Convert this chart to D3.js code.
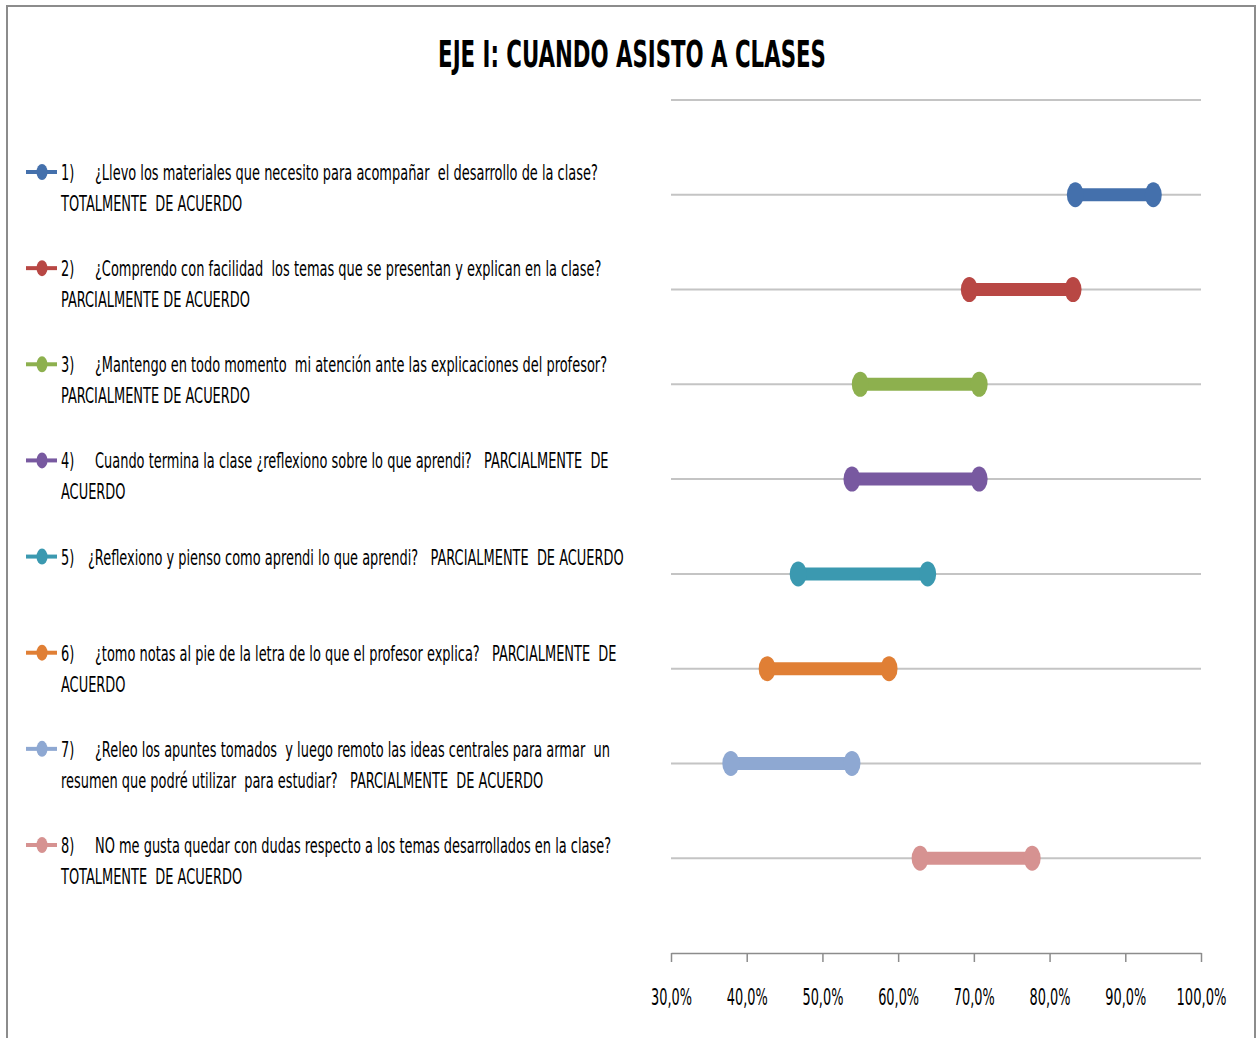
<!DOCTYPE html>
<html>
<head>
<meta charset="utf-8">
<script src="https://cdn.jsdelivr.net/npm/d3@7"></script>
<style>
  body { margin: 0; background: #fff; }
  svg text { font-family: "Liberation Sans Narrow", "DejaVu Sans Condensed", sans-serif; white-space: pre; }
</style>
</head>
<body>
<div id="chart"></div>
<script>
var svgWidth = 1258;
var svgHeight = 1038;

// question numbers, label lines, and the low / high percentage of each range
var numbers = ["1)", "2)", "3)", "4)", "5)", "6)", "7)", "8)"];
var firstLines = [
    "¿Llevo los materiales que necesito para acompañar  el desarrollo de la clase?",
    "¿Comprendo con facilidad  los temas que se presentan y explican en la clase?",
    "¿Mantengo en todo momento  mi atención ante las explicaciones del profesor?",
    "Cuando termina la clase ¿reflexiono sobre lo que aprendi?   PARCIALMENTE  DE",
    "¿Reflexiono y pienso como aprendi lo que aprendi?   PARCIALMENTE  DE ACUERDO",
    "¿tomo notas al pie de la letra de lo que el profesor explica?   PARCIALMENTE  DE",
    "¿Releo los apuntes tomados  y luego remoto las ideas centrales para armar  un",
    "NO me gusta quedar con dudas respecto a los temas desarrollados en la clase?"
];
var secondLines = [
    "TOTALMENTE  DE ACUERDO",
    "PARCIALMENTE DE ACUERDO",
    "PARCIALMENTE DE ACUERDO",
    "ACUERDO",
    "",
    "ACUERDO",
    "resumen que podré utilizar  para estudiar?   PARCIALMENTE  DE ACUERDO",
    "TOTALMENTE  DE ACUERDO"
];
var lowValues = [0.834, 0.694, 0.550, 0.539, 0.468, 0.427, 0.379, 0.629];
var highValues = [0.937, 0.831, 0.707, 0.707, 0.639, 0.588, 0.539, 0.777];
var colors = ["#4470ac", "#b84744", "#8db04e", "#7859a0", "#3b99b0", "#e07f35", "#8ea8d2", "#d69291"];
var xTicks = [0.3, 0.4, 0.5, 0.6, 0.7, 0.8, 0.9, 1.0];

var svg = d3.select("#chart")
    .append("svg")
    .attr("width", svgWidth)
    .attr("height", svgHeight);

// frame
svg.append("rect")
    .attr("x", 7).attr("y", 6)
    .attr("width", 1248).attr("height", 1040)
    .attr("fill", "none")
    .attr("stroke", "#8c8c8c")
    .attr("stroke-width", 2);

// squeeze a text element horizontally so it spans targetWidth
function squeeze(sel, targetWidth, anchorX) {
    var w = sel.node().getComputedTextLength();
    var k = targetWidth / w;
    sel.attr("transform", `translate(${anchorX * (1 - k)},0) scale(${k},1)`);
}

var title = svg.append("text")
    .attr("x", 632)
    .attr("y", 67)
    .attr("text-anchor", "middle")
    .attr("font-size", 38)
    .attr("font-weight", "bold")
    .attr("fill", "#000")
    .text("EJE I: CUANDO ASISTO A CLASES");
squeeze(title, 388, 632);

var xScale = d3.scaleLinear()
    .domain([0.3, 1.0])
    .range([671, 1201]);

var yScale = d3.scaleLinear()
    .domain([0, 9])
    .range([953, 100]);

// gridlines
svg.append("g").selectAll("line")
    .data(d3.range(1, 10))
    .enter()
    .append("line")
    .attr("x1", 671).attr("x2", 1201)
    .attr("y1", d => yScale(d)).attr("y2", d => yScale(d))
    .attr("stroke", "#c4c4c4")
    .attr("stroke-width", 2);

var bottomAxis = d3.axisBottom(xScale)
    .tickValues(xTicks)
    .tickSize(9)
    .tickSizeOuter(0)
    .tickPadding(29)
    .tickFormat(d => d3.format(".1f")(d * 100).replace(".", ",") + "%");

var xAxis = svg.append("g")
    .attr("transform", `translate(0, ${yScale(0)})`)
    .call(bottomAxis);
xAxis.select(".domain").attr("stroke", "#8c8c8c").attr("stroke-width", 1.5);
xAxis.selectAll(".tick line").attr("stroke", "#8c8c8c").attr("stroke-width", 1.5);
xAxis.selectAll(".tick text")
    .attr("font-family", "Liberation Sans Narrow, DejaVu Sans Condensed, sans-serif")
    .attr("font-size", 23)
    .attr("dy", "0.6em")
    .attr("fill", "#000")
    .each(function (d) {
        var t = d3.select(this);
        var target = d >= 1 ? 50 : 41;
        var w = this.getComputedTextLength();
        t.attr("transform", `scale(${target / w},1)`);
    });

// ranges
var rows = d3.range(numbers.length);
var rangeGroup = svg.append("g");

rangeGroup.selectAll("line")
    .data(rows)
    .enter()
    .append("line")
    .attr("x1", i => xScale(lowValues[i]))
    .attr("x2", i => xScale(highValues[i]))
    .attr("y1", i => yScale(8 - i))
    .attr("y2", i => yScale(8 - i))
    .attr("stroke", i => colors[i])
    .attr("stroke-width", 13);

rangeGroup.selectAll("ellipse.lo")
    .data(rows)
    .enter()
    .append("ellipse")
    .attr("class", "lo")
    .attr("cx", i => xScale(lowValues[i]))
    .attr("cy", i => yScale(8 - i))
    .attr("rx", 8.5).attr("ry", 12.5)
    .attr("fill", i => colors[i]);

rangeGroup.selectAll("ellipse.hi")
    .data(rows)
    .enter()
    .append("ellipse")
    .attr("class", "hi")
    .attr("cx", i => xScale(highValues[i]))
    .attr("cy", i => yScale(8 - i))
    .attr("rx", 8.5).attr("ry", 12.5)
    .attr("fill", i => colors[i]);

// legend
var legendY = d3.scaleLinear().domain([0, 7]).range([172, 845]);
var squeezeK = null;

rows.forEach(function (i) {
    var g = svg.append("g").attr("transform", `translate(0, ${legendY(i)})`);
    g.append("line")
        .attr("x1", 26).attr("x2", 57)
        .attr("y1", 0).attr("y2", 0)
        .attr("stroke", colors[i])
        .attr("stroke-width", 4);
    g.append("ellipse")
        .attr("cx", 42).attr("cy", 0)
        .attr("rx", 5.5).attr("ry", 8)
        .attr("fill", colors[i]);

    var num = g.append("text")
        .attr("x", 61).attr("y", 8)
        .attr("font-size", 21)
        .text(numbers[i]);
    var q = g.append("text")
        .attr("x", i === 4 ? 88 : 95).attr("y", 8)
        .attr("font-size", 21)
        .text(firstLines[i]);
    if (squeezeK === null) {
        squeezeK = 503 / q.node().getComputedTextLength();
    }
    num.attr("transform", `translate(${61 * (1 - squeezeK)},0) scale(${squeezeK},1)`);
    var qx = i === 4 ? 88 : 95;
    q.attr("transform", `translate(${qx * (1 - squeezeK)},0) scale(${squeezeK},1)`);

    if (secondLines[i]) {
        g.append("text")
            .attr("x", 61).attr("y", 39)
            .attr("font-size", 21)
            .attr("transform", `translate(${61 * (1 - squeezeK)},0) scale(${squeezeK},1)`)
            .text(secondLines[i]);
    }
});
</script>
</body>
</html>
